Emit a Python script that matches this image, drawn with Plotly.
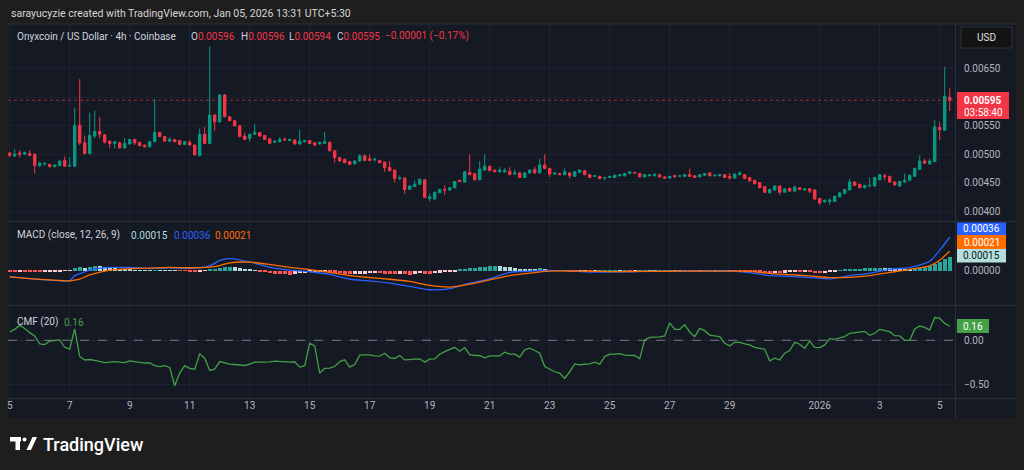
import pandas as pd
import plotly.graph_objects as go

# ---------------- data ----------------
START = "2025-12-05 00:00"      # first 4h candle shown (UTC)
N_CANDLES = 189
P = 1e-5                         # OHLC lists are in units of 0.00001 USD

opens = [502,497,502,500,501,500,480,483,482,478,480,489,479,479,551,520,501,532,540,534,
         523,519,520,511,518,526,521,516,513,522,538,531,523,526,524,517,521,516,498,535,
         519,569,557,604,566,559,550,532,528,535,538,533,527,521,522,526,524,525,518,522,
         524,520,518,519,521,506,494,491,487,483,488,497,492,490,489,486,477,472,457,458,
         438,443,447,455,422,421,432,438,437,441,454,451,468,466,455,472,479,472,469,469,
         470,465,467,459,467,473,467,481,475,465,466,464,467,461,468,471,464,461,461,458,
         459,459,462,462,466,468,466,460,462,462,464,460,458,462,461,461,464,462,460,463,
         467,462,462,464,461,458,464,464,459,454,450,443,432,437,444,433,440,435,441,437,
         439,437,422,416,417,417,425,431,437,451,447,441,444,444,455,462,461,451,444,451,
         454,461,473,488,483,487,547,542,600]
highs = [503,509,507,505,507,501,487,485,483,482,489,496,495,582,632,533,573,577,566,535,
         524,523,522,528,527,527,522,517,523,597,540,532,530,527,525,523,525,517,545,548,
         690,570,606,606,567,560,551,538,536,553,539,534,528,524,530,530,527,526,543,525,
         525,521,522,539,522,507,495,492,488,489,500,500,500,494,490,487,488,473,463,459,
         445,454,457,456,431,434,439,445,442,453,455,470,500,467,488,500,480,473,477,475,
         477,473,468,468,473,478,492,500,476,468,467,475,468,470,473,472,465,463,462,460,
         462,464,465,467,470,469,467,465,465,467,465,461,462,464,463,465,475,463,465,467,
         468,464,465,465,467,466,470,465,460,455,451,444,439,445,445,440,441,445,442,440,
         440,438,423,420,422,427,433,439,457,452,448,446,459,460,465,466,462,452,453,466,
         464,476,498,492,492,560,557,654,616]
lows = [495,495,494,499,497,466,477,479,477,477,479,478,479,478,516,500,500,528,528,519,
        510,510,510,510,517,516,514,512,512,521,530,522,522,521,516,516,515,498,496,518,
        518,541,556,565,558,549,530,525,522,534,531,525,518,520,521,524,523,517,516,521,
        518,515,517,518,505,485,487,484,481,482,487,488,488,487,484,469,470,450,454,430,
        437,442,446,423,417,420,431,428,435,440,451,450,463,454,454,471,470,468,468,467,
        463,464,458,458,466,466,466,474,460,464,463,463,457,460,467,463,458,460,456,454,
        458,458,461,461,465,466,459,459,461,461,459,456,457,458,460,460,460,458,459,462,
        461,461,461,458,455,457,463,456,452,447,440,432,431,436,428,432,434,434,437,436,
        431,420,410,415,411,416,424,430,436,444,440,440,443,443,454,454,450,445,443,450,
        453,460,472,483,482,486,525,541,576]
closes = [498,500,500,503,498,480,484,484,478,481,488,479,480,550,520,501,533,540,535,521,
          519,522,511,519,526,520,515,513,522,538,531,523,526,522,517,522,516,499,535,519,
          569,557,604,566,559,550,531,526,535,538,532,526,519,523,526,525,526,518,523,524,
          519,516,521,522,506,494,488,485,482,488,497,489,489,491,485,476,471,457,458,438,
          444,447,456,424,425,433,438,437,441,452,452,469,464,455,474,479,471,469,472,472,
          464,467,459,467,472,467,481,475,465,467,464,469,462,469,472,464,459,462,457,459,
          461,463,464,466,469,467,460,464,464,464,460,458,461,461,462,464,461,459,464,466,
          462,463,464,459,458,465,467,457,453,448,441,433,438,444,433,439,435,442,438,439,
          435,421,414,419,419,426,432,438,451,445,441,445,445,459,464,461,451,446,452,454,
          463,475,488,484,488,548,543,602,595]

# MACD histogram per candle (units of 0.00001)
hist_e5 = ([-0.5,-0.6,-0.4,-0.5,-0.6,-0.8,-0.9,-0.7,-0.6,-0.5,-0.4,-0.3,-0.2]
           + [2.8,3.6,3.2,4.2,5.3,5.0]
           + [4.0,3.2,2.5,1.8,1.2,0.9,0.6,0.4,0.3,0.2]
           + [0.6,0.5,0.3,0.2,0.1,-0.2,-0.3,-0.4,-1.2,-0.6,-0.3]
           + [1.2,1.5,2.8,3.6,4.2,3.8,2.8,1.8,1.0,0.5]
           + [-1.0,-1.8,-2.6,-3.2,-3.6,-3.9,-4.2,-3.6,-3.0,-2.4,-1.8,-1.4,-1.0,-0.8]
           + [-1.2,-2.0,-2.8,-3.4,-3.8,-3.6,-3.5,-3.2,-3.0,-2.8,-2.8,-3.2,-3.6,-3.9,-3.7,
              -4.0,-4.2,-3.6,-3.0,-3.4,-3.6,-2.8,-2.0,-1.5,-1.0,-0.4]
           + [1.5,2.2,2.8,3.2,3.9,4.5,5.3,5.6,4.6,4.2,3.6]
           + [3.2,2.1,1.8,1.6,1.4,2.5,1.8,0.5]
           + [0.2,0.1,-0.2,-0.3,-0.4,-0.3,-0.2,-0.2,-0.1,0.1,0.2,0.2,0.3,0.1,0.1,-0.2,-0.1,
              0.2,0.3,0.2,0.1,0.1,0.2,0.3,0.2,0.1,0.1,-0.1,-0.2,-0.1,0.1,0.2,0.1,0.1,0.2,
              0.1,-0.2,-0.3,-0.4]
           + [-0.6,-1.2,-2.0,-2.8,-3.0,-2.2,-2.5,-2.0,-1.8,-1.4,-1.6,-1.5,-1.6,-2.4,-2.9,
              -2.2,-1.6,-0.8]
           + [0.3,1.2,2.0,2.2,2.3,2.4,2.6,2.8,3.2,3.0,2.8,2.5,2.2,2.0,1.8,2.0,2.6,3.5,
              5.0,7.0,9.5,12.5,15.0])

# MACD / signal lines read at these candle indices (units of 0.00001)
macd_idx = [0,4,8,12,13,14,16,20,24,28,32,36,40,42,44,48,52,56,60,64,68,72,76,80,84,88,
            92,96,100,104,108,112,116,120,124,128,132,136,140,144,148,152,156,160,164,168,
            172,176,180,184,186,188]
macd_e5 = [-6.4,-8.5,-10.2,-10.9,-5.3,-3.2,0.7,3.5,3.5,2.5,3.2,2.5,5.3,11.0,13.1,9.5,3.5,
           0.7,-1.1,-3.9,-9.2,-10.9,-13.4,-16.9,-20.5,-19.4,-13.4,-8.8,-1.8,-0.4,0.4,-0.4,
           -1.4,-1.4,-1.1,-0.7,-0.7,-0.4,-0.4,-0.4,-2.1,-5.3,-6.0,-7.4,-8.8,-5.3,-2.8,1.8,
           3.2,10.2,21.9,36.0]
signal_e5 = [-6.7,-8.5,-9.9,-10.9,-10.2,-9.0,-4.6,0.7,2.1,2.8,3.5,3.2,3.9,5.5,8.5,9.2,6.7,
             3.5,1.1,-1.8,-5.3,-7.4,-9.2,-11.6,-15.9,-17.7,-14.5,-9.9,-5.2,-2.5,-0.4,-0.3,
             -0.7,-0.9,-0.9,-0.7,-0.6,-0.5,-0.4,-0.4,-0.7,-2.8,-4.2,-5.6,-7.4,-7.1,-5.3,
             -1.8,1.4,5.3,11.3,21.0]

cmf_vals = [0.095,0.125,0.17,0.135,0.087,0.05,-0.042,-0.05,-0.008,0.0,
            0.004,-0.08,-0.10,0.13,-0.185,-0.225,-0.22,-0.23,-0.245,-0.255,
            -0.25,-0.243,-0.25,-0.255,-0.235,-0.243,-0.255,-0.26,-0.258,-0.29,
            -0.30,-0.29,-0.31,-0.52,-0.375,-0.29,-0.32,-0.33,-0.155,-0.205,
            -0.345,-0.33,-0.243,-0.26,-0.273,-0.277,-0.284,-0.288,-0.273,-0.25,
            -0.25,-0.25,-0.246,-0.239,-0.243,-0.254,-0.25,-0.246,-0.307,-0.29,
            -0.034,-0.064,-0.375,-0.322,-0.318,-0.30,-0.243,-0.224,-0.307,-0.277,
            -0.17,-0.167,-0.167,-0.178,-0.182,-0.148,-0.20,-0.208,-0.174,-0.224,
            -0.22,-0.216,-0.212,-0.25,-0.216,-0.212,-0.159,-0.129,-0.102,-0.08,
            -0.125,-0.083,-0.163,-0.174,-0.174,-0.20,-0.178,-0.174,-0.178,-0.136,
            -0.159,-0.159,-0.193,-0.11,-0.091,-0.117,-0.148,-0.30,-0.33,-0.36,
            -0.375,-0.436,-0.36,-0.27,-0.28,-0.273,-0.27,-0.25,-0.273,-0.186,
            -0.159,-0.159,-0.152,-0.17,-0.174,-0.174,-0.212,0.004,0.034,0.034,
            0.038,0.05,0.20,0.125,0.125,0.178,0.095,0.042,0.136,0.11,
            0.06,0.05,0.042,-0.034,-0.064,-0.023,-0.023,-0.042,-0.053,-0.08,
            -0.091,-0.102,-0.235,-0.205,-0.224,-0.148,-0.117,-0.023,-0.045,-0.091,
            -0.008,-0.08,-0.083,-0.053,0.019,0.011,0.027,0.042,0.08,0.087,
            0.087,0.102,0.057,0.08,0.125,0.11,0.098,0.053,0.05,0.0,
            0.0,0.129,0.163,0.148,0.117,0.26,0.25,0.193,0.16]

time_tick_dates = ["2025-12-05", "2025-12-07", "2025-12-09", "2025-12-11", "2025-12-13",
                   "2025-12-15", "2025-12-17", "2025-12-19", "2025-12-21", "2025-12-23",
                   "2025-12-25", "2025-12-27", "2025-12-29", "2026-01-01", "2026-01-03",
                   "2026-01-05"]
time_tick_text = ["5", "7", "9", "11", "13", "15", "17", "19", "21", "23", "25", "27", "29",
                  "2026", "3", "5"]
price_tick_vals = [0.0040, 0.0045, 0.0050, 0.0055, 0.0060, 0.0065]
price_tick_text = ["0.00400", "0.00450", "0.00500", "0.00550", "", "0.00650"]
last_price = 0.00595

# ---------------- style / layout helpers ----------------
W, H = 1024, 470
ML, MR, MT, MB = 8, 69, 24, 72
PW, PH = W - ML - MR, H - MT - MB


def fx(px):
    return (px - ML) / PW


def fy(py):
    return (H - MB - py) / PH


FONT = "Roboto, 'Noto Sans', sans-serif"
BG = "#151924"
OUTER = "#1e1e1e"
GRID = "#1d2130"
SEP = "#2a2e39"
TXT = "#b2b5be"
UP, DN = "#089981", "#F23645"

times = pd.date_range(START, periods=N_CANDLES, freq="4h")
o = [v * P for v in opens]
h = [v * P for v in highs]
l = [v * P for v in lows]
c = [v * P for v in closes]
hist = [v * P for v in hist_e5]
hist_colors = []
for i, v in enumerate(hist):
    prev = hist[i - 1] if i > 0 else 0
    if v >= 0:
        hist_colors.append("#26A69A" if v >= prev else "#B2DFDB")
    else:
        hist_colors.append("#FF5252" if v <= prev else "#FFCDD2")

fig = go.Figure()
fig.add_trace(go.Candlestick(
    x=times, open=o, high=h, low=l, close=c, xaxis="x", yaxis="y",
    increasing=dict(line=dict(color=UP, width=1), fillcolor=UP),
    decreasing=dict(line=dict(color=DN, width=1), fillcolor=DN),
    whiskerwidth=0, hoverinfo="skip", showlegend=False))

fig.add_trace(go.Bar(x=times, y=hist, marker=dict(color=hist_colors, line=dict(width=0)),
                     width=4 * 3600 * 1000 * 0.72, xaxis="x", yaxis="y2",
                     hoverinfo="skip", showlegend=False))
mx = [times[i] for i in macd_idx]
fig.add_trace(go.Scatter(x=mx, y=[v * P for v in macd_e5], mode="lines", xaxis="x", yaxis="y2",
                         line=dict(color="#2962FF", width=1.3, shape="spline", smoothing=0.6),
                         hoverinfo="skip", showlegend=False))
fig.add_trace(go.Scatter(x=mx, y=[v * P for v in signal_e5], mode="lines", xaxis="x", yaxis="y2",
                         line=dict(color="#FF6D00", width=1.3, shape="spline", smoothing=0.6),
                         hoverinfo="skip", showlegend=False))
fig.add_trace(go.Scatter(x=times, y=cmf_vals, mode="lines", xaxis="x", yaxis="y3",
                         line=dict(color="#43A047", width=1.3),
                         hoverinfo="skip", showlegend=False))

t0 = pd.Timestamp(START)
x_range = [t0 - pd.Timedelta(hours=1.36), t0 + pd.Timedelta(hours=756.24)]

yax_common = dict(side="right", anchor="x", showline=False, zeroline=False, ticks="",
                  tickfont=dict(family=FONT, size=10, color=TXT), gridcolor=GRID,
                  gridwidth=1, ticklabelstandoff=8, fixedrange=True)

fig.update_layout(
    width=W, height=H, margin=dict(l=ML, r=MR, t=MT, b=MB),
    paper_bgcolor=OUTER, plot_bgcolor=BG, showlegend=False, bargap=0,
    font=dict(family=FONT, color=TXT),
    xaxis=dict(type="date", range=x_range, domain=[0, 1], anchor="y3",
               tickvals=[pd.Timestamp(d) for d in time_tick_dates], ticktext=time_tick_text,
               showgrid=True, gridcolor=GRID, gridwidth=1, zeroline=False, showline=False,
               ticks="", tickfont=dict(family=FONT, size=10, color=TXT),
               rangeslider=dict(visible=False), fixedrange=True),
    yaxis=dict(domain=[fy(221), 1], range=[0.003824, 0.007292],
               tickvals=price_tick_vals, ticktext=price_tick_text, **yax_common),
    yaxis2=dict(domain=[fy(305), fy(222)], range=[-0.000369, 0.000524],
                tickvals=[0], ticktext=["0.00000"], **yax_common),
    yaxis3=dict(domain=[0, fy(306)], range=[-0.660, 0.392],
                tickvals=[0, -0.5], ticktext=["0.00", "\u22120.50"], **yax_common),
)

shapes = []


def prect(x0, y0, x1, y1, fill, line=None, layer="above", lw=0):
    shapes.append(dict(type="rect", xref="paper", yref="paper",
                       x0=fx(x0), x1=fx(x1), y0=fy(y1), y1=fy(y0), fillcolor=fill,
                       line=dict(width=lw, color=line or fill), layer=layer))


def pline(x0, y0, x1, y1, color, width=1, dash="solid", layer="above"):
    shapes.append(dict(type="line", xref="paper", yref="paper",
                       x0=fx(x0), x1=fx(x1), y0=fy(y0), y1=fy(y1),
                       line=dict(color=color, width=width, dash=dash), layer=layer))


# chart frame background
prect(8, 24, 1016, 418, BG, layer="below")
# pane separators and scale borders
pline(8, 221.5, 1016, 221.5, SEP)
pline(8, 305.5, 1016, 305.5, SEP)
pline(8, 398.5, 1016, 398.5, SEP)
pline(955.5, 24, 955.5, 418, SEP)
pline(8, 24, 1016, 24, SEP)
# last price dotted line
shapes.append(dict(type="line", xref="paper", yref="y", x0=0, x1=1, y0=last_price, y1=last_price,
                   line=dict(color="rgba(242,54,69,0.65)", width=1, dash="dot")))
# CMF zero line
shapes.append(dict(type="line", xref="paper", yref="y3", x0=0, x1=1, y0=0, y1=0,
                   line=dict(color="#787B86", width=1, dash="dash")))

# right-scale tags
prect(961, 27, 1012, 48, "#131313", line="#2f3240", lw=1)
prect(957, 92, 1009, 119, DN)
prect(957, 222.5, 1006, 235, "#2962FF")
prect(957, 235, 1006, 249, "#FF6D00")
prect(957, 249, 1006, 262.5, "#B2DFDB")
prect(957, 319, 989, 333, "#43A047")

# TradingView logo (watermark)
prect(10, 437, 21, 441.5, "#ffffff")
prect(15.5, 437, 20, 450, "#ffffff")
shapes.append(dict(type="circle", xref="paper", yref="paper", x0=fx(22.5), x1=fx(26.5),
                   y0=fy(441.5), y1=fy(437.5), fillcolor="#ffffff", line=dict(width=0)))
shapes.append(dict(type="path", xref="paper", yref="paper",
                   path="M %f,%f L %f,%f L %f,%f L %f,%f Z" % (
                       fx(26.5), fy(450), fx(31), fy(450), fx(37), fy(437), fx(32.5), fy(437)),
                   fillcolor="#ffffff", line=dict(width=0)))
fig.update_layout(shapes=shapes)

ann = []


def txt(x, y, s, size=10, color=TXT, anchor="left", weight=None):
    f = dict(family=FONT, size=size, color=color)
    if weight:
        f["weight"] = weight
    ann.append(dict(xref="paper", yref="paper", x=fx(x), y=fy(y), text=s, showarrow=False,
                    xanchor=anchor, yanchor="middle", font=f))


txt(9, 13, "sarayucyzie created with TradingView.com, Jan 05, 2026 13:31 UTC+5:30",
    size=10.5, color="#d6d6d6")
LEG = "#d1d4dc"
txt(15, 36, "Onyxcoin / US Dollar \u00b7 4h \u00b7 Coinbase", color=LEG)
txt(189, 36, "O<span style='color:#F23645'>0.00596</span>", color=LEG)
txt(239, 36, "H<span style='color:#F23645'>0.00596</span>", color=LEG)
txt(287, 36, "L<span style='color:#F23645'>0.00594</span>", color=LEG)
txt(335, 36, "C<span style='color:#F23645'>0.00595</span>", color=LEG)
txt(383, 36, "\u22120.00001 (\u22120.17%)", color="#F23645")

txt(15, 235, "MACD (close, 12, 26, 9)", color=LEG)
txt(129, 235, "0.00015", color="#B2DFDB")
txt(172, 235, "0.00036", color="#2962FF")
txt(213, 235, "0.00021", color="#FF6D00")

txt(15, 322, "CMF (20)", color=LEG)
txt(62, 322, "0.16", color="#43A047")

txt(986.5, 37.5, "USD", color="#e0e0e0", anchor="center")
txt(983, 100, "<b>0.00595</b>", color="#ffffff", anchor="center")
txt(983, 112, "03:58:40", color="#ffffff", anchor="center")
txt(981.5, 228.8, "0.00036", color="#ffffff", anchor="center")
txt(981.5, 242, "0.00021", color="#ffffff", anchor="center")
txt(981.5, 255.8, "0.00015", color="#131722", anchor="center")
txt(973, 326, "0.16", color="#ffffff", anchor="center")

txt(41, 444.5, "TradingView", size=18, color="#ffffff", weight=500)
fig.update_layout(annotations=ann)

fig.write_html("out.html", config={"displayModeBar": False},
               post_script="document.body.style.margin='0px';")
